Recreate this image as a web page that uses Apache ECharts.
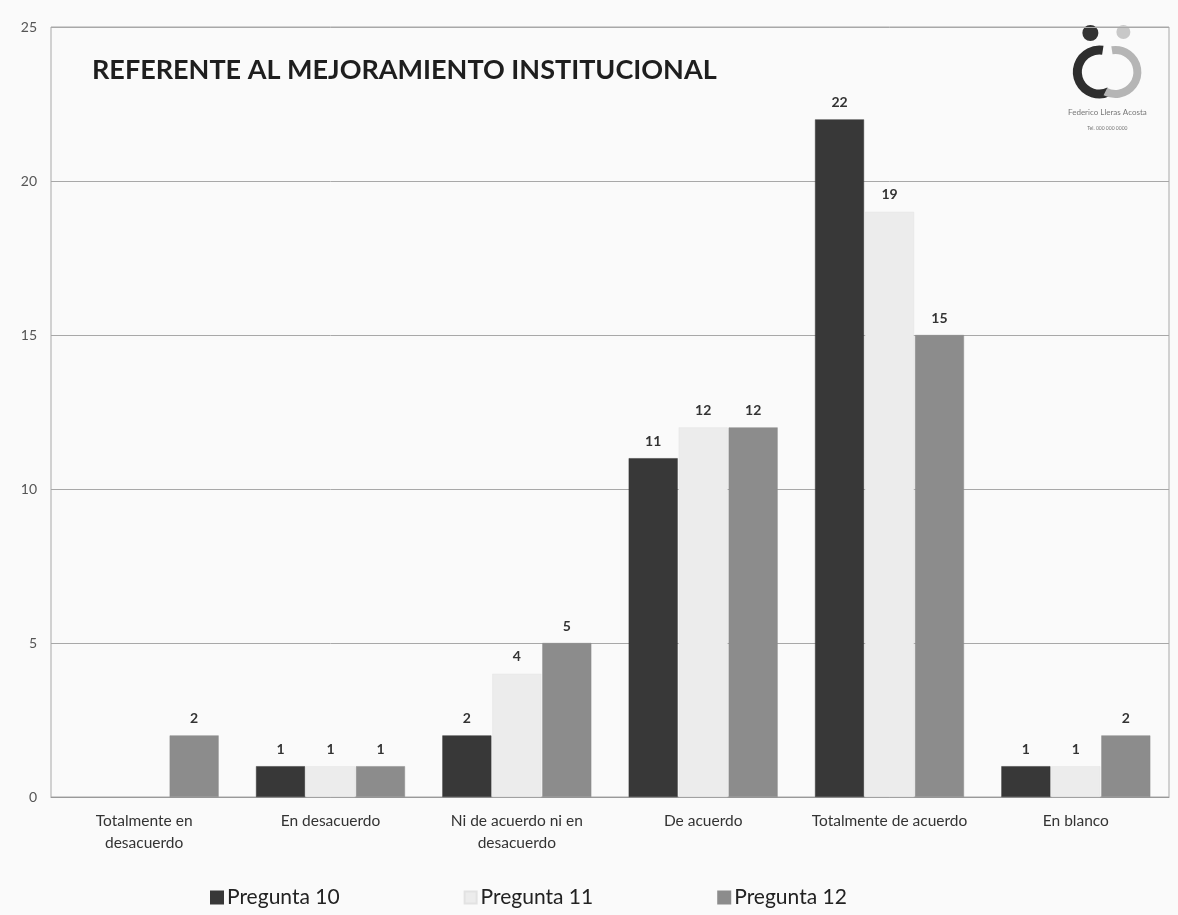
<!DOCTYPE html>
<html>
<head>
<meta charset="utf-8">
<script src="https://cdn.jsdelivr.net/npm/echarts@6/dist/echarts.min.js"></script>
<style>
html,body{margin:0;padding:0;background:#fafafa;}
#chart{width:1178px;height:915px;}
</style>
</head>
<body>
<div id="chart"></div>
<script>
const categories = ['Totalmente en\ndesacuerdo', 'En desacuerdo', 'Ni de acuerdo ni en\ndesacuerdo', 'De acuerdo', 'Totalmente de acuerdo', 'En blanco'];
const seriesNames = ['Pregunta 10', 'Pregunta 11', 'Pregunta 12'];
const pregunta10 = [null, 1, 2, 11, 22, 1];
const pregunta11 = [null, 1, 4, 12, 19, 1];
const pregunta12 = [2, 1, 5, 12, 15, 2];
const yTicks = [0, 5, 10, 15, 20, 25];
const colors = ['#383838', '#ececec', '#8c8c8c'];
const titleText = 'REFERENTE AL MEJORAMIENTO INSTITUCIONAL';

const chart = echarts.init(document.getElementById('chart'), null, {renderer: 'canvas'});
const font = 'Lato, "Open Sans", sans-serif';
const mk = (name, data, i) => ({
  name, type: 'bar', data,
  barWidth: 49, barGap: '2%',
  itemStyle: {color: colors[i], borderColor: i === 1 ? '#e2e2e2' : colors[i], borderWidth: 0.5},
  label: {show: true, position: 'top', distance: 10, color: '#333', fontSize: 14, fontFamily: font, fontWeight: 'bold'}
});
chart.setOption({
  backgroundColor: '#fafafa',
  animation: false,
  color: colors,
  grid: {left: 51, right: 9, top: 27, bottom: 118, show: true, borderColor: '#a8a8a8', borderWidth: 1, backgroundColor: 'transparent'},
  xAxis: {
    type: 'category', data: categories,
    axisLine: {show: true, lineStyle: {color: '#999'}},
    axisTick: {show: false},
    axisLabel: {color: '#333', fontSize: 15.5, fontFamily: font, lineHeight: 22, margin: 13, interval: 0}
  },
  yAxis: {
    type: 'value', min: yTicks[0], max: yTicks[yTicks.length - 1], interval: 5,
    axisLine: {show: false}, axisTick: {show: false},
    axisLabel: {color: '#555', fontSize: 14, fontFamily: font, margin: 14},
    splitLine: {lineStyle: {color: '#a8a8a8', width: 1}}
  },
  legend: {
    data: seriesNames, bottom: 2, left: 205,
    itemWidth: 12, itemHeight: 12, itemGap: 124, icon: 'rect',
    textStyle: {color: '#222', fontSize: 21, fontFamily: font, padding: [0,0,0,-1]}
  },
  series: [mk(seriesNames[0], pregunta10, 0), mk(seriesNames[1], pregunta11, 1), mk(seriesNames[2], pregunta12, 2)],
  graphic: [
    {type: 'text', left: 92, top: 57, style: {text: titleText, fontSize: 27, fontWeight: 'bold', fontFamily: font, fill: '#1e1e1e'}},
    {type: 'group', left: 1068, top: 25, children: [
      {type: 'circle', shape: {cx: 21, cy: 11, r: 8}, style: {fill: '#333'}},
      {type: 'circle', shape: {cx: 54, cy: 10, r: 7}, style: {fill: '#c8c8c8'}},
      {type: 'arc', shape: {cx: 30, cy: 50, r: 22, startAngle: Math.PI * 0.35, endAngle: Math.PI * 1.55, clockwise: true}, style: {stroke: '#2e2e2e', lineWidth: 9, fill: null}},
      {type: 'arc', shape: {cx: 46, cy: 50, r: 22, startAngle: -Math.PI * 0.55, endAngle: Math.PI * 0.65, clockwise: true}, style: {stroke: '#b5b5b5', lineWidth: 8, fill: null}},
      {type: 'text', x: 38, y: 86, style: {text: 'Federico Lleras Acosta', fontSize: 8, fill: '#777', align: 'center', fontFamily: font}},
      {type: 'text', x: 38, y: 104, style: {text: 'Tel. 000 000 0000', fontSize: 5, fill: '#777', align: 'center', fontFamily: font}}
    ]}
  ]
});
</script>
</body>
</html>
